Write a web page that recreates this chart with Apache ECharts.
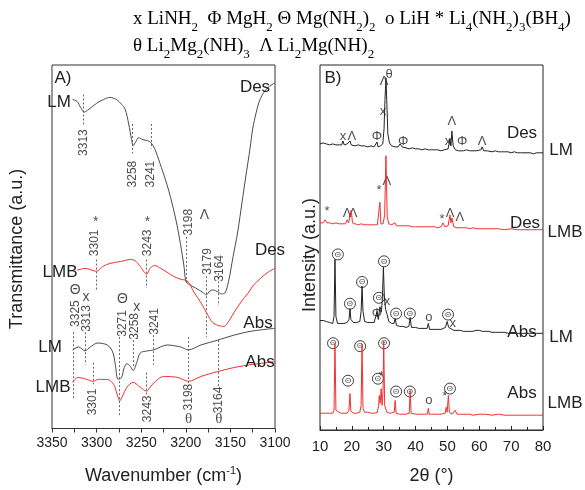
<!DOCTYPE html>
<html><head><meta charset="utf-8">
<script src="https://cdn.jsdelivr.net/npm/echarts@6/dist/echarts.min.js"></script>
<style>html,body{margin:0;padding:0;background:#fff}#c{width:585px;height:490px}</style>
</head><body><div id="c"></div>
<script>
// ---------- Panel A: FTIR (wavenumber, transmittance a.u.) ----------
const irTicks = [3100, 3150, 3200, 3250, 3300, 3350];
const irLMDes = [[3327,335],[3322,333],[3318,327],[3314,322],[3310,324],[3300,331],[3292,335],[3285,337],[3278,335],[3272,330],[3268,325],[3264,310],[3261,295],[3259,288],[3256,292],[3253,296],[3248,294],[3243,293],[3239,291],[3235,285],[3232,278],[3226,262],[3221,248],[3217,235],[3211,212],[3206,188],[3202,165],[3200,150],[3197,147],[3189,143],[3180,138],[3177,136],[3173,140],[3169,141],[3164,139],[3160,137],[3156,138],[3152,150],[3147,175],[3142,199],[3137,230],[3133,255],[3128,285],[3125,305],[3121,322],[3118,332],[3114,340],[3108,347],[3100,352]];
const irLMBDes = [[3322,161],[3313,163],[3300,160],[3293,165],[3285,168],[3273,170],[3262,172],[3257,171],[3251,165],[3244,157],[3240,163],[3235,166],[3228,163],[3221,159],[3214,155],[3206,152],[3198,150],[3191,139],[3183,128],[3175,115],[3170,108],[3164,105],[3157,104],[3152,109],[3146,118],[3138,129],[3130,138],[3124,146],[3116,153],[3108,159],[3100,163]];
const irLMAbs = [[3327,80],[3320,83],[3313,79],[3307,83],[3299,87],[3288,85],[3282,78],[3279,65],[3276,50],[3272,52],[3269,62],[3266,66],[3262,63],[3259,59],[3255,67],[3251,77],[3243,79],[3236,80],[3221,85],[3206,83],[3197,80],[3183,85],[3164,90],[3146,95],[3127,99],[3100,102]];
const irLMBAbs = [[3327,47],[3321,52],[3311,50],[3304,48],[3298,50],[3288,50],[3281,45],[3277,35],[3274,28],[3271,33],[3266,42],[3259,47],[3251,42],[3244,38],[3240,42],[3234,48],[3225,53],[3209,52],[3197,48],[3183,53],[3164,58],[3146,62],[3127,65],[3100,68]];
// dotted guides: [wavenumber, from, to]
const irGuides = [[3315,340,308],[3260,310,280],[3239,310,285],[3200,195,148],[3177,155,93],[3164,158,125],[3300,172,140],[3244,172,143],[3326,98,30],[3313,98,65],[3275,93,12],[3259,90,62],[3236,95,65],[3304,67,45],[3244,57,33],[3197,93,43],[3164,90,42]];
// rotated peak labels: [wavenumber, a.u., text]
const irPeakLabels = [[3315,291,'3313'],[3260,259,'3258'],[3239,259,'3241'],[3197,210,'3198'],[3175,170,'3179'],[3162,163,'3164'],[3302,189,'3301'],[3243,189,'3243'],[3324,117,'3325'],[3311,112,'3313'],[3271,107,'3271'],[3257,104,'3258'],[3235,109,'3241'],[3304,27,'3301'],[3243,20,'3243'],[3197,32,'3198'],[3163,29,'3164']];
const irSymbols = [[3301,210,'*'],[3243,210,'*'],[3324,141,'Θ'],[3312,134,'x'],[3271,132,'Θ'],[3255,124,'x'],[3179,217,'Λ']];
const irThetaLow = [[3197,10,'θ'],[3163,10,'θ']];

// ---------- Panel B: XRD (2θ, intensity a.u.) ----------
const xrdTicks = [10, 20, 30, 40, 50, 60, 70, 80];
const xrdLMDes = [[10,290],[11,291],[12,290],[13,289],[14,290],[15,289],[16,289],[16.8,289],[17.2,293],[17.6,289],[18.5,290],[19.0,289],[19.4,293],[19.8,289],[21,288],[22,289],[23,288],[24,288],[25,287],[26,288],[27,287],[27.6,287],[27.9,292],[28.2,287],[29,288],[29.7,290],[30.1,305],[30.4,335],[30.7,357],[31.0,330],[31.3,300],[31.8,291],[32.5,288],[33.5,287],[34.5,287],[35.1,290],[35.8,287],[37,286],[38,285],[39,286],[40,285],[41,285],[42,284],[43,285],[44,284],[45,284],[46,284],[47,284],[48,283],[49,284],[50.2,285],[50.8,295],[51.1,288],[51.4,303],[51.8,288],[52.5,284],[53.5,283],[55,283],[56,284],[57,283],[58,283],[59,283],[60.5,284],[60.9,287],[61.4,283],[62.5,283],[64,282],[65,283],[66,282],[67,282],[68,282],[69,282],[70,281],[71,282],[72,281],[73,281],[74,281],[75,281],[76,281],[77,280],[78,281],[79,281],[80,281]];
const xrdLMBDes = [[10,210],[11,210],[11.6,213],[12.2,210],[13,210],[14,209],[15,210],[16,209],[17,209],[18,209],[18.5,213],[19.0,210],[19.5,212],[19.8,223],[20.2,210],[21,209],[22,208],[23,209],[24,208],[25,208],[26,208],[27,208],[28,208],[28.5,209],[28.8,231],[29.1,209],[29.8,209],[30.3,218],[30.7,278],[31.1,216],[31.6,209],[32.5,208],[33.5,210],[34,207],[35,207],[36,207],[37,207],[38,207],[39,206],[40,206],[41,206],[42,206],[43,206],[44,206],[45,206],[46,206],[47,205],[48,206],[48.6,210],[49.2,206],[50.2,207],[50.8,218],[51.1,210],[51.4,215],[52,206],[53,205],[54,205],[55,205],[56,205],[57,204],[58,205],[59,204],[60,204],[62,204],[64,204],[66,204],[68,203],[70,204],[72,203],[74,203],[76,203],[78,203],[80,203]];
const xrdLMAbs = [[10,111],[11,111],[12,110],[13,109],[14,108],[14.4,115],[14.7,173],[15.0,115],[15.5,108],[16.5,108],[17.5,108],[18.5,109],[19.1,112],[19.4,123],[19.7,112],[20.5,109],[21.5,109],[22.5,110],[22.9,120],[23.2,146],[23.5,120],[24,110],[25,109],[26,109],[27,109],[27.5,110],[27.9,120],[28.3,112],[28.8,125],[29.3,120],[29.6,135],[29.9,165],[30.2,135],[30.6,122],[31,118],[31.6,110],[32.5,108],[33.2,108],[33.6,113],[34,106],[35,105],[36,105],[37,104],[37.9,105],[38.3,114],[38.7,104],[40,104],[41,103],[42,103],[43.6,103],[44.0,108],[44.4,102],[45,102],[46,102],[47,102],[48,102],[49.4,104],[49.9,110],[50.4,104],[51,103],[52,101],[53,101],[54,101],[55,100],[56,100],[57,100],[58,100],[59,101],[60,101],[61,100],[62,100],[63,100],[64,99],[65,99],[66,99],[67,99],[68,99],[69,98],[70,98],[72,98],[74,98],[76,98],[78,98],[80,98]];
const xrdLMBAbs = [[10,17],[11,17],[12,17],[13,17],[14,17],[14.4,20],[14.7,88],[15.0,20],[15.5,18],[16.5,17],[17.5,17],[18.5,17],[19.1,20],[19.4,37],[19.7,19],[20.5,17],[21.5,17],[22.5,18],[22.9,25],[23.2,87],[23.5,22],[24,18],[25,18],[26,17],[27,17],[28,18],[28.4,25],[28.6,35],[28.9,27],[29.2,42],[29.5,25],[29.8,40],[30.0,90],[30.3,25],[31,18],[32,17],[33.3,18],[33.6,30],[33.9,17],[35,16],[36,16],[37,16],[38,17],[38.3,40],[38.6,17],[40,16],[41,16],[42,16],[43.7,16],[44.0,22],[44.3,16],[45,16],[46,16],[47,16],[48,16],[49.3,17],[49.6,23],[49.9,18],[50.3,35],[50.6,18],[51.5,16],[52.4,20],[53,16],[54,16],[55,16],[56,16],[57,16],[58,15],[60,16],[62,16],[64,15],[66,16],[68,15],[70,15],[72,15],[74,15],[76,15],[78,15],[80,15]];
// phase marks: [2θ, a.u., symbol]
const xrdSymbols = [[17.2,298,'x'],[20.0,298,'Λ'],[27.9,298,'Φ'],[29.8,323,'x'],[30.1,353,'Λ'],[31.7,360,'θ'],[36.1,293,'Φ'],[51.4,313,'Λ'],[50.2,293,'x'],[54.6,293,'Φ'],[60.9,293,'Λ'],
  [12.2,222,'*'],[18.5,220,'Λ'],[20.4,220,'Λ'],[28.5,243,'*'],[31.0,252,'Λ'],[48.3,213,'*'],[50.8,220,'Λ'],[53.9,215,'Λ'],
  [27.9,118,'Φ'],[31.0,130,'x'],[44.2,114,'o'],[51.7,108,'x'],
  [29.2,54,'*'],[44.2,30,'o'],[49.2,34,'*']];
const xrdCircled = [[15.6,178],[19.4,128],[23.2,150],[28.5,134],[30.1,171],[33.9,118],[38.2,118],[50.2,117],
  [14.1,88],[18.8,50],[22.6,85],[28.2,52],[30.1,88],[33.9,39],[38.2,39],[50.8,42]];

const SANS = 'Liberation Sans, Arial, sans-serif';
const SERIF = 'Liberation Serif, Times New Roman, serif';
const GRAY = '#4a4a4a', RED = '#f23030', TXT = '#222';

const chart = echarts.init(document.getElementById('c'), null, {renderer: 'canvas'});

function txt(x, y, text, size, extra) {
  return Object.assign({type: 'text', x: x, y: y, z: 100,
    style: Object.assign({text: text, font: size + 'px ' + SANS, fill: TXT, align: 'center', verticalAlign: 'middle'}, extra || {})});
}
const subRich = {
  n: {fontFamily: SERIF, fontSize: 19, color: TXT, lineHeight: 23, verticalAlign: 'top'},
  s: {fontFamily: SERIF, fontSize: 13, color: TXT, lineHeight: 13, padding: [11, 0, 0, 0], verticalAlign: 'top'}
};

function xAxisCommon(extra) {
  return Object.assign({
    type: 'value', splitLine: {show: false},
    axisLine: {show: true, lineStyle: {color: '#333', width: 1}},
    nameLocation: 'middle'
  }, extra);
}

const option = {
  animation: false,
  backgroundColor: '#fff',
  grid: [
    {left: 52, top: 65, width: 223, height: 370, show: true, borderColor: '#333', borderWidth: 1},
    {left: 320, top: 65, width: 223, height: 370, show: true, borderColor: '#222', borderWidth: 1}
  ],
  xAxis: [
    xAxisCommon({gridIndex: 0, min: irTicks[0], max: irTicks[irTicks.length - 1], interval: 50, inverse: true,
      axisTick: {show: true, inside: false, length: 4, lineStyle: {color: '#333'}},
      minorTick: {show: true, splitNumber: 2, length: 4, lineStyle: {color: '#333'}},
      axisLabel: {fontSize: 14, color: TXT, fontFamily: SANS, margin: 8, formatter: v => String(v)},
      name: '{a|Wavenumber (cm}{b|-1}{a|)}', nameGap: 37,
      nameTextStyle: {rich: {a: {fontSize: 18, fontFamily: SANS, color: TXT}, b: {fontSize: 11, fontFamily: SANS, color: TXT, padding: [0, 0, 10, 0]}}}}),
    xAxisCommon({gridIndex: 1, min: xrdTicks[0], max: xrdTicks[xrdTicks.length - 1], interval: 10,
      axisTick: {show: true, inside: true, length: 4, lineStyle: {color: '#222'}},
      minorTick: {show: true, splitNumber: 2, length: 3, lineStyle: {color: '#222'}},
      axisLabel: {fontSize: 15, color: TXT, fontFamily: SANS, margin: 9, formatter: v => String(v)},
      name: '2θ (°)', nameGap: 37, nameTextStyle: {fontSize: 18, fontFamily: SANS, color: TXT}})
  ],
  yAxis: [
    {gridIndex: 0, type: 'value', min: 0, max: 370, show: false},
    {gridIndex: 1, type: 'value', min: 0, max: 370, show: false}
  ],
  series: [
    {type: 'line', xAxisIndex: 0, yAxisIndex: 0, data: irLMDes, showSymbol: false, smooth: 0.3, lineStyle: {color: GRAY, width: 1}},
    {type: 'line', xAxisIndex: 0, yAxisIndex: 0, data: irLMBDes, showSymbol: false, smooth: 0.3, lineStyle: {color: RED, width: 1}},
    {type: 'line', xAxisIndex: 0, yAxisIndex: 0, data: irLMAbs, showSymbol: false, smooth: 0.3, lineStyle: {color: GRAY, width: 1}},
    {type: 'line', xAxisIndex: 0, yAxisIndex: 0, data: irLMBAbs, showSymbol: false, smooth: 0.3, lineStyle: {color: RED, width: 1}},
    {type: 'lines', coordinateSystem: 'cartesian2d', xAxisIndex: 0, yAxisIndex: 0, silent: true,
      data: irGuides.map(g => ({coords: [[g[0], g[1]], [g[0], g[2]]]})),
      lineStyle: {type: [2, 2], color: '#666', width: 1, opacity: 1}},
    {type: 'scatter', xAxisIndex: 0, yAxisIndex: 0, symbolSize: 1, itemStyle: {color: 'rgba(0,0,0,0)'}, silent: true,
      data: irPeakLabels.map(p => ({value: [p[0], p[1]], name: p[2]})),
      label: {show: true, position: 'inside', rotate: 90, formatter: '{b}', fontSize: 12, fontFamily: SANS, color: TXT}},
    {type: 'scatter', xAxisIndex: 0, yAxisIndex: 0, symbolSize: 1, itemStyle: {color: 'rgba(0,0,0,0)'}, silent: true,
      data: irSymbols.map(p => ({value: [p[0], p[1]], name: p[2]})),
      label: {show: true, position: 'inside', formatter: '{b}', fontSize: 14, fontFamily: SANS, color: TXT}},
    {type: 'scatter', xAxisIndex: 0, yAxisIndex: 0, symbolSize: 1, itemStyle: {color: 'rgba(0,0,0,0)'}, silent: true,
      data: irThetaLow.map(p => ({value: [p[0], p[1]], name: p[2]})),
      label: {show: true, position: 'inside', formatter: '{b}', fontSize: 15, fontFamily: SERIF, color: TXT}},

    {type: 'line', xAxisIndex: 1, yAxisIndex: 1, data: xrdLMDes, showSymbol: false, lineStyle: {color: '#222', width: 1}},
    {type: 'line', xAxisIndex: 1, yAxisIndex: 1, data: xrdLMBDes, showSymbol: false, lineStyle: {color: RED, width: 1}},
    {type: 'line', xAxisIndex: 1, yAxisIndex: 1, data: xrdLMAbs, showSymbol: false, lineStyle: {color: '#222', width: 1}},
    {type: 'line', xAxisIndex: 1, yAxisIndex: 1, data: xrdLMBAbs, showSymbol: false, lineStyle: {color: RED, width: 1}},
    {type: 'scatter', xAxisIndex: 1, yAxisIndex: 1, symbolSize: 1, itemStyle: {color: 'rgba(0,0,0,0)'}, silent: true,
      data: xrdSymbols.map(p => ({value: [p[0], p[1]], name: p[2]})),
      label: {show: true, position: 'inside', formatter: '{b}', fontSize: 13, fontFamily: SANS, color: TXT}},
    {type: 'scatter', xAxisIndex: 1, yAxisIndex: 1, symbol: 'circle', symbolSize: 11, silent: true,
      itemStyle: {color: 'rgba(255,255,255,0)', borderColor: '#111', borderWidth: 1},
      data: xrdCircled.map(p => ({value: [p[0], p[1]], name: 'Θ'})),
      label: {show: true, position: 'inside', formatter: '{b}', fontSize: 8, fontFamily: SANS, color: '#111'}}
  ],
  graphic: [
    {type: 'text', left: 133, top: 10, z: 100, style: {rich: subRich,
      text: '{n|x LiNH}{s|2}{n|  Φ MgH}{s|2}{n| Θ Mg(NH}{s|2}{n|)}{s|2}{n|  o LiH * Li}{s|4}{n|(NH}{s|2}{n|)}{s|3}{n|(BH}{s|4}{n|)}'}},
    {type: 'text', left: 133, top: 37, z: 100, style: {rich: subRich,
      text: '{n|θ Li}{s|2}{n|Mg}{s|2}{n|(NH)}{s|3}{n|  Λ Li}{s|2}{n|Mg(NH)}{s|2}'}},
    txt(17, 249, 'Transmittance (a.u.)', 18, {}),
    txt(310, 255, 'Intensity (a.u.)', 18, {}),
    txt(63, 78, 'A)', 17), txt(333, 78, 'B)', 17),
    txt(59, 102, 'LM', 17), txt(255, 87, 'Des', 17),
    txt(60, 272, 'LMB', 17), txt(270, 250, 'Des', 17),
    txt(258, 323, 'Abs', 17), txt(50, 347, 'LM', 17),
    txt(260, 362, 'Abs', 17), txt(53, 387, 'LMB', 17),
    txt(522, 133, 'Des', 17), txt(561, 150, 'LM', 17),
    txt(525, 223, 'Des', 17), txt(565, 232, 'LMB', 17),
    txt(522, 332, 'Abs', 17), txt(561, 337, 'LM', 17),
    txt(522, 393, 'Abs', 17), txt(565, 403, 'LMB', 17)
  ]
};
option.graphic[2].rotation = Math.PI / 2;
option.graphic[3].rotation = Math.PI / 2;
chart.setOption(option);
</script></body></html>
